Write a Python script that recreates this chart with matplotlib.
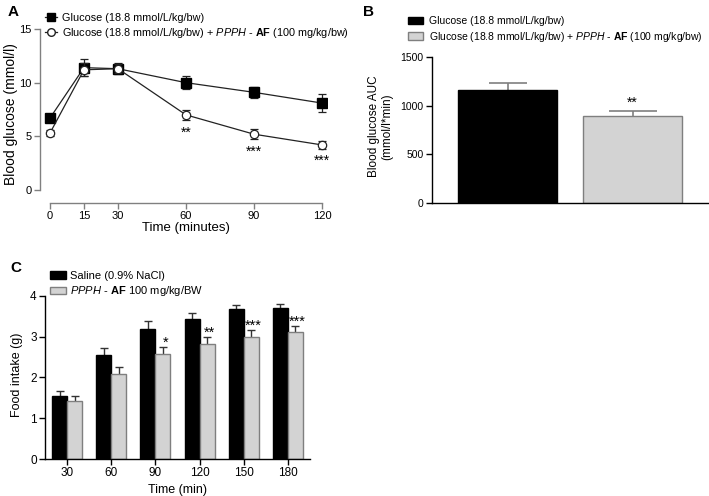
"""
Three-panel figure: glucose tolerance curve (A), glucose AUC bars (B)
and cumulative food intake bars (C).
"""

import matplotlib
matplotlib.use("Agg")
import matplotlib.pyplot as plt
from matplotlib import font_manager
from matplotlib.lines import Line2D
from matplotlib.patches import Patch

W, H = 709, 496

names = {f.name for f in font_manager.fontManager.ttflist}
NARROW = "Liberation Sans Narrow" if "Liberation Sans Narrow" in names else "Liberation Sans"

plt.rcParams["font.family"] = "Liberation Sans"
plt.rcParams["mathtext.fontset"] = "custom"
plt.rcParams["mathtext.rm"] = "Liberation Sans"
plt.rcParams["mathtext.it"] = "Liberation Sans:italic"
plt.rcParams["mathtext.bf"] = "Liberation Sans:bold"

GREY_FILL = "#d3d3d3"
GREY_EDGE = "#7f7f7f"

LABEL_GLU = "Glucose (18.8 mmol/L/kg/bw)"
LABEL_GLU_AF = r"Glucose (18.8 mmol/L/kg/bw) + $\mathit{PPPH}$ - $\mathbf{AF}$ (100 mg/kg/bw)"

# --- panel A data ---
time_a = [0, 15, 30, 60, 90, 120]
glu_mean = [6.7, 11.4, 11.3, 10.0, 9.1, 8.1]
glu_err = [0.3, 0.8, 0.5, 0.6, 0.5, 0.8]
af_mean = [5.3, 11.2, 11.3, 7.0, 5.2, 4.2]
af_err = [0.3, 0.6, 0.4, 0.5, 0.45, 0.35]
stars_a = ["", "", "", "**", "***", "***"]

# --- panel B data ---
auc_groups = [LABEL_GLU, LABEL_GLU_AF]
auc_mean = [1164, 894]
auc_err = [70, 48]
stars_b = ["", "**"]

# --- panel C data ---
time_c = ["30", "60", "90", "120", "150", "180"]
saline_mean = [1.54, 2.56, 3.20, 3.44, 3.69, 3.71]
saline_err = [0.12, 0.16, 0.18, 0.15, 0.10, 0.09]
ppph_mean = [1.43, 2.08, 2.57, 2.81, 2.99, 3.12]
ppph_err = [0.11, 0.17, 0.18, 0.18, 0.17, 0.14]
stars_c = ["", "", "*", "**", "***", "***"]


def px_axes(fig, left, top, right, bottom):
    """Adds an axes given in pixel coordinates (origin top-left)."""
    return fig.add_axes([left / W, 1 - bottom / H, (right - left) / W, (bottom - top) / H])


def prism_style(ax, color, ybounds, xbounds=None):
    ax.spines["top"].set_visible(False)
    ax.spines["right"].set_visible(False)
    for side in ("left", "bottom"):
        ax.spines[side].set_color(color)
        ax.spines[side].set_linewidth(1.0)
    ax.spines["left"].set_bounds(*ybounds)
    if xbounds is not None:
        ax.spines["bottom"].set_bounds(*xbounds)
    ax.tick_params(direction="out", length=4, width=1.0, color=color, pad=2)


def up_errorbar(ax, x, y, err, color, capsize, lw):
    """Error bars pointing up only, drawn under the bars."""
    _, caps, bars = ax.errorbar(x, y, yerr=[[0] * len(err), err], fmt="none",
                                ecolor=color, elinewidth=lw, capsize=capsize,
                                capthick=lw, zorder=1)
    caps[0].set_visible(False)


fig = plt.figure(figsize=(W / 100, H / 100), dpi=100)

# ---------------- A ----------------
ax_a = px_axes(fig, 40, 25, 326.5, 203)
ax_a.errorbar(time_a, glu_mean, yerr=glu_err, color="#222222", lw=0.9,
              marker="s", ms=6.5, mfc="black", mec="black",
              ecolor="#222222", elinewidth=0.9, capsize=3, capthick=0.9, zorder=3)
ax_a.errorbar(time_a, af_mean, yerr=af_err, color="#222222", lw=0.9,
              marker="o", ms=6, mfc="white", mec="#222222", mew=0.9,
              ecolor="#222222", elinewidth=0.9, capsize=3, capthick=0.9, zorder=4)
for t, m, e, s in zip(time_a, af_mean, af_err, stars_a):
    if s:
        ax_a.annotate(s, (t, m - e), xytext=(0, -4), textcoords="offset points",
                      ha="center", va="top", fontsize=10, family=NARROW)
ax_a.set_xlim(-4.4, 122)
ax_a.set_ylim(-1.211, 15.373)
ax_a.set_xticks(time_a)
ax_a.set_yticks([0, 5, 10, 15])
prism_style(ax_a, "#808080", (0, 15), (0, 120))
for lab in ax_a.get_xticklabels() + ax_a.get_yticklabels():
    lab.set_family(NARROW)
    lab.set_fontsize(8)
ax_a.set_xlabel("Time (minutes)", fontsize=9.5, family=NARROW)
ax_a.xaxis.set_label_coords(0.51, -0.105)
ax_a.set_ylabel("Blood glucose (mmol/l)", fontsize=10)
ax_a.yaxis.set_label_coords(-0.078, 0.5)

handles_a = [
    Line2D([], [], color="#222222", lw=0.9, marker="s", ms=5.5, mfc="black", mec="black"),
    Line2D([], [], color="#222222", lw=0.9, marker="o", ms=5.5, mfc="white", mec="#222222"),
]
ax_a.legend(handles_a, [LABEL_GLU, LABEL_GLU_AF], loc="upper left",
            bbox_to_anchor=(45 / W, 1 - 13 / H), bbox_transform=fig.transFigure,
            frameon=False, borderpad=0, borderaxespad=0, handlelength=1.1,
            handletextpad=0.5, labelspacing=0.25,
            prop={"family": NARROW, "size": 7.8})

# ---------------- B ----------------
ax_b = px_axes(fig, 432, 50, 708, 203)
x_b = [0, 1]
ax_b.bar(x_b, auc_mean, width=0.79, color=["black", GREY_FILL],
         edgecolor=["black", GREY_EDGE], linewidth=1.0, zorder=2)
for x, m, e, cap in zip(x_b, auc_mean, auc_err, [14, 17.5]):
    up_errorbar(ax_b, [x], [m], [e], GREY_EDGE, capsize=cap, lw=1.2)
for x, m, e, s in zip(x_b, auc_mean, auc_err, stars_b):
    if s:
        ax_b.annotate(s, (x, m + e), xytext=(0, 1), textcoords="offset points",
                      ha="center", va="bottom", fontsize=10)
ax_b.set_xlim(-0.604, 1.604)
ax_b.set_ylim(0, 1571)
ax_b.set_yticks([0, 500, 1000, 1500])
ax_b.set_xticks([])
prism_style(ax_b, "black", (0, 1500))
ax_b.tick_params(labelsize=7.5)
ax_b.set_ylabel("Blood glucose AUC\n(mmol/l*min)", fontsize=8.5, labelpad=5)

handles_b = [Patch(facecolor="black", edgecolor="black"),
             Patch(facecolor=GREY_FILL, edgecolor=GREY_EDGE)]
ax_b.legend(handles_b, auc_groups, loc="upper left",
            bbox_to_anchor=(408 / W, 1 - 16 / H), bbox_transform=fig.transFigure,
            frameon=False, borderpad=0, borderaxespad=0, handlelength=1.45,
            handleheight=0.75, handletextpad=0.6, labelspacing=0.35,
            prop={"size": 7.5})

# ---------------- C ----------------
ax_c = px_axes(fig, 45, 290, 310, 459)
x_c = list(range(len(time_c)))
bw = 0.34
ax_c.bar([x - bw / 2 for x in x_c], saline_mean, width=bw, color="black",
         edgecolor="black", linewidth=1.0, zorder=2, label="Saline (0.9% NaCl)")
ax_c.bar([x + bw / 2 for x in x_c], ppph_mean, width=bw, color=GREY_FILL,
         edgecolor=GREY_EDGE, linewidth=1.0, zorder=2,
         label=r"$\mathit{PPPH}$ - $\mathbf{AF}$ 100 mg/kg/BW")
up_errorbar(ax_c, [x - bw / 2 for x in x_c], saline_mean, saline_err, "#333333", 3, 1.0)
up_errorbar(ax_c, [x + bw / 2 for x in x_c], ppph_mean, ppph_err, "#333333", 3, 1.0)
for x, m, e, s in zip(x_c, ppph_mean, ppph_err, stars_c):
    if s:
        ax_c.annotate(s, (x + bw / 2 + 0.05, m + e), xytext=(0, -2), textcoords="offset points",
                      ha="center", va="bottom", fontsize=10.5)
ax_c.set_xlim(-0.5, 5.5)
ax_c.set_ylim(0, 4.147)
ax_c.set_xticks(x_c)
ax_c.set_xticklabels(time_c)
ax_c.set_yticks([0, 1, 2, 3, 4])
prism_style(ax_c, "black", (0, 4))
ax_c.tick_params(labelsize=8.5)
ax_c.set_xlabel("Time (min)", fontsize=9, labelpad=3)
ax_c.set_ylabel("Food intake (g)", fontsize=9, labelpad=5)
ax_c.legend(loc="upper left", bbox_to_anchor=(50 / W, 1 - 271 / H),
            bbox_transform=fig.transFigure, frameon=False, borderpad=0,
            borderaxespad=0, handlelength=1.4, handleheight=0.7,
            handletextpad=0.4, labelspacing=0.3, prop={"size": 8})

# panel letters
for letter, (px, py) in {"A": (8, 12), "B": (363, 12), "C": (10, 268)}.items():
    fig.text(px / W, 1 - py / H, letter, fontsize=11, fontweight="bold",
             ha="left", va="center")

fig.savefig("out.png", dpi=100)
